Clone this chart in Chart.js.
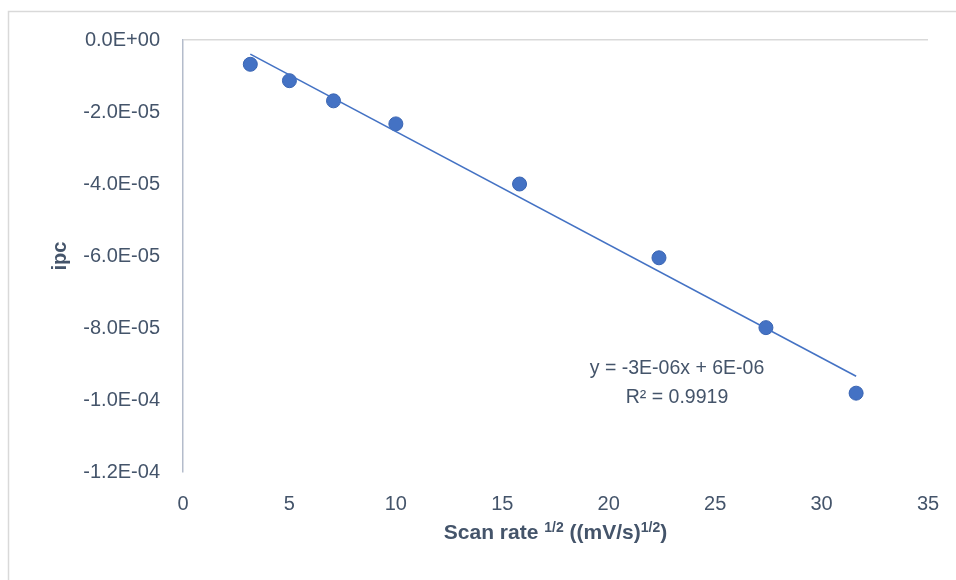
<!DOCTYPE html>
<html>
<head>
<meta charset="utf-8">
<script src="https://cdn.jsdelivr.net/npm/chart.js@4.4.1/dist/chart.umd.min.js"></script>
<style>
  html, body { margin: 0; padding: 0; background: #ffffff; }
  #wrap { width: 956px; height: 580px; position: relative; }
</style>
</head>
<body>
<div id="wrap"><canvas id="c" width="956" height="580"></canvas></div>
<script>
// Square root of scan rate, (mV/s)^1/2
const scanRateRoot = [3.162, 5.000, 7.071, 10.000, 15.811, 22.361, 27.386, 31.623];
// Cathodic peak current ipc (A)
const ipc = [-6.75e-6, -1.13e-5, -1.69e-5, -2.33e-5, -4.00e-5, -6.05e-5, -7.99e-5, -9.81e-5];
// Axis ticks
const xTicks = [0, 5, 10, 15, 20, 25, 30, 35];
const yTicks = [0, -2e-5, -4e-5, -6e-5, -8e-5, -1.0e-4, -1.2e-4];
// Trendline caption
const fitCaption = ['y = -3E-06x + 6E-06', 'R\u00B2 = 0.9919'];

const TEXT = '#44546a';
const BLUE = '#4472c4';
const FONT = '"Liberation Sans", Arial, sans-serif';

// Least-squares linear trendline through the measured points
function linearFit(xs, ys) {
  const n = xs.length;
  const mx = xs.reduce((a, b) => a + b, 0) / n;
  const my = ys.reduce((a, b) => a + b, 0) / n;
  let sxy = 0, sxx = 0;
  for (let i = 0; i < n; i++) {
    sxy += (xs[i] - mx) * (ys[i] - my);
    sxx += (xs[i] - mx) * (xs[i] - mx);
  }
  const slope = sxy / sxx;
  return { slope, intercept: my - slope * mx };
}
const fit = linearFit(scanRateRoot, ipc);
const xMin = Math.min(...scanRateRoot), xMax = Math.max(...scanRateRoot);
const trend = [xMin, xMax].map(x => ({ x, y: fit.slope * x + fit.intercept }));

function sci(v) {
  if (Math.abs(v) < 1e-12) return '0.0E+00';
  const [m, e] = v.toExponential(1).split('e');
  const n = parseInt(e, 10);
  return m + 'E' + (n < 0 ? '-' : '+') + String(Math.abs(n)).padStart(2, '0');
}

const frame = {
  id: 'frame',
  beforeDraw(chart) {
    const ctx = chart.ctx;
    ctx.save();
    ctx.fillStyle = '#ffffff';
    ctx.fillRect(0, 0, chart.width, chart.height);
    ctx.strokeStyle = '#d9d9d9';
    ctx.lineWidth = 1.5;
    ctx.strokeRect(8.5, 11.5, chart.width + 10, chart.height + 10);
    ctx.restore();
  }
};

// Axis titles (with superscripts) and the trendline equation
const annotations = {
  id: 'annotations',
  afterDraw(chart) {
    const ctx = chart.ctx;
    const area = chart.chartArea;
    ctx.save();
    ctx.fillStyle = TEXT;

    // y-axis title
    ctx.save();
    ctx.translate(66, (area.top + area.bottom) / 2);
    ctx.rotate(-Math.PI / 2);
    ctx.font = 'bold 20px ' + FONT;
    ctx.textAlign = 'center';
    ctx.textBaseline = 'alphabetic';
    ctx.fillText('ipc', 0, 0);
    ctx.restore();

    // x-axis title: Scan rate 1/2 ((mV/s)1/2)
    const parts = [
      { t: 'Scan rate ', sup: false },
      { t: '1/2', sup: true },
      { t: ' ((mV/s)', sup: false },
      { t: '1/2', sup: true },
      { t: ')', sup: false }
    ];
    const mainFont = 'bold 21px ' + FONT;
    const supFont = 'bold 14px ' + FONT;
    let total = 0;
    parts.forEach(p => { ctx.font = p.sup ? supFont : mainFont; p.w = ctx.measureText(p.t).width; total += p.w; });
    let x = (area.left + area.right) / 2 - total / 2;
    const base = 539;
    ctx.textAlign = 'left';
    ctx.textBaseline = 'alphabetic';
    parts.forEach(p => {
      ctx.font = p.sup ? supFont : mainFont;
      ctx.fillText(p.t, x, p.sup ? base - 7 : base);
      x += p.w;
    });

    // trendline equation
    ctx.font = '19.5px ' + FONT;
    ctx.textAlign = 'center';
    ctx.fillText(fitCaption[0], 677, 374);
    ctx.fillText(fitCaption[1], 677, 403);
    ctx.restore();
  }
};

new Chart(document.getElementById('c'), {
  type: 'scatter',
  data: {
    datasets: [
      {
        type: 'line',
        label: 'Linear (ipc)',
        data: trend,
        borderColor: BLUE,
        borderWidth: 1.6,
        pointRadius: 0,
        fill: false,
        order: 0
      },
      {
        label: 'ipc',
        data: scanRateRoot.map((x, i) => ({ x, y: ipc[i] })),
        backgroundColor: BLUE,
        borderColor: '#3a65b3',
        borderWidth: 1,
        pointRadius: 7,
        order: 1
      }
    ]
  },
  options: {
    responsive: false,
    animation: false,
    layout: { padding: { left: 0, top: 40, right: 28, bottom: 0 } },
    plugins: {
      legend: { display: false },
      tooltip: { enabled: false }
    },
    scales: {
      x: {
        type: 'linear',
        min: 0,
        max: 35,
        afterBuildTicks: s => { s.ticks = xTicks.map(v => ({ value: v })); },
        afterFit: s => { s.height = 108; s.paddingLeft = 0; s.paddingRight = 0; },
        grid: { display: false, drawTicks: false },
        border: { display: false },
        ticks: {
          color: TEXT,
          font: { family: FONT, size: 20 },
          padding: 20,
          callback: v => String(v)
        }
      },
      y: {
        type: 'linear',
        min: -1.2e-4,
        max: 0,
        afterBuildTicks: s => { s.ticks = yTicks.map(v => ({ value: v })); },
        afterFit: s => { s.width = 183; s.paddingTop = 0; s.paddingBottom = 0; },
        grid: {
          drawTicks: false,
          lineWidth: 1.5,
          color: c => (c.tick && Math.abs(c.tick.value) < 1e-12 ? '#d9d9d9' : 'rgba(0,0,0,0)')
        },
        border: { display: true, color: '#b4bccb', width: 1.5 },
        ticks: {
          color: TEXT,
          font: { family: FONT, size: 20 },
          padding: 23,
          callback: v => sci(v)
        }
      }
    }
  },
  plugins: [frame, annotations]
});
</script>
</body>
</html>
